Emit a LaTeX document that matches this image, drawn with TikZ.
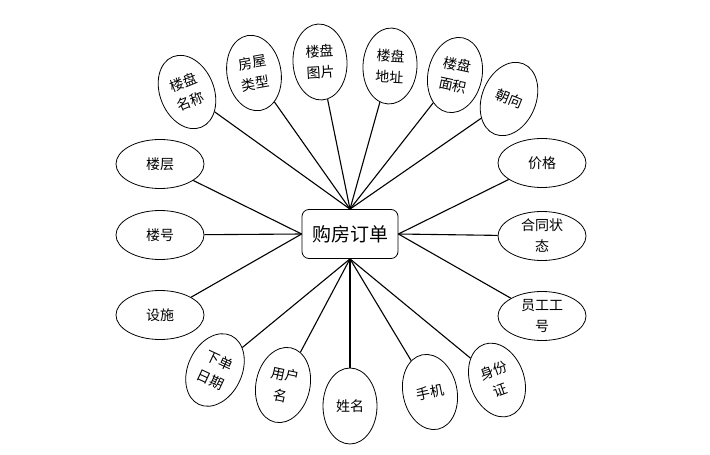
\documentclass[tikz,border=0pt]{standalone}
\usepackage{fontspec}
\setmainfont{Noto Sans CJK SC}
\usetikzlibrary{shapes.geometric}
\begin{document}
\begin{tikzpicture}[x=1pt,y=-1pt,
  attr/.style={draw=black,line width=0.8pt,ellipse,inner sep=0pt,align=center,font=\fontsize{14}{21}\selectfont},
  vattr/.style={attr,minimum width=54pt,minimum height=76pt},
  hattr/.style={attr,minimum width=88pt,minimum height=49pt},
  link/.style={draw=black,line width=1.1pt},
  ent/.style={draw=black,line width=0.8pt,rounded corners=7pt,minimum width=96pt,minimum height=49pt,inner sep=0pt,font=\fontsize{19}{22}\selectfont}]
\useasboundingbox (0,0) rectangle (710,455);
\node[ent] (c) at (350,234) {购房订单};
% top
\node[vattr,rotate=22] (a1) at (187,92) {楼盘\\名称};
\node[vattr,rotate=10] (a2) at (254,73) {房屋\\类型};
\node[vattr,rotate=3] (a3) at (320,62) {楼盘\\图片};
\node[vattr,rotate=-3] (a4) at (390,66) {楼盘\\地址};
\node[vattr,rotate=-12] (a5) at (455,75) {楼盘\\面积};
\node[vattr,rotate=-22] (a6) at (509,99) {朝向};
% left
\node[hattr] (l1) at (160,164) {楼层};
\node[hattr] (l2) at (160,235) {楼号};
\node[hattr] (l3) at (160,315) {设施};
% right
\node[hattr] (r1) at (542,163) {价格};
\node[hattr] (r2) at (542,236) {合同状\\态};
\node[hattr] (r3) at (542,316) {员工工\\号};
% bottom
\node[vattr,rotate=-25] (b1) at (215,370) {下单\\日期};
\node[vattr,rotate=-12] (b2) at (283,385) {用户\\名};
\node[vattr] (b3) at (350,406) {姓名};
\node[vattr,rotate=12] (b4) at (430,392) {手机};
\node[vattr,rotate=20] (b5) at (497,380) {身份\\证};
% links
\foreach \n in {a1,a2,a3,a4,a5,a6} \draw[link] (c.north) -- (\n);
\foreach \n in {l1,l2,l3} \draw[link] (c.west) -- (\n);
\foreach \n in {r1,r2,r3} \draw[link] (c.east) -- (\n);
\foreach \n in {b1,b2,b3,b4,b5} \draw[link] (c.south) -- (\n);
\end{tikzpicture}
\end{document}
